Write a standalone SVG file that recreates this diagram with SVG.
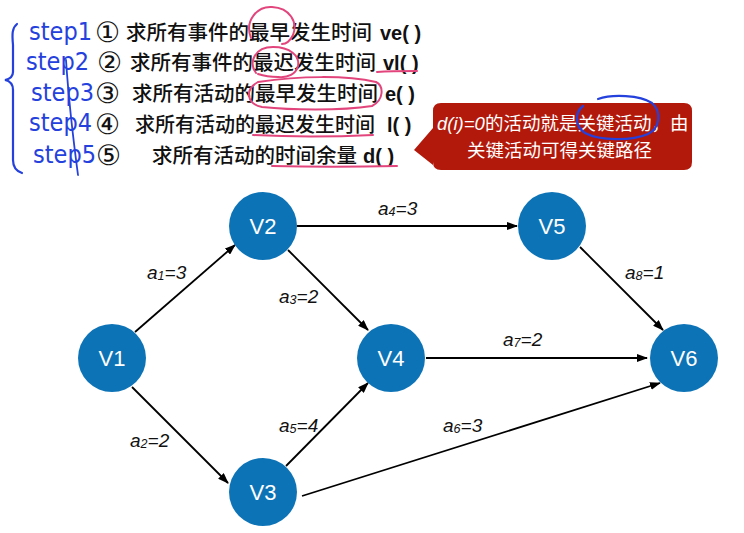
<svg xmlns="http://www.w3.org/2000/svg" width="744" height="533" viewBox="0 0 744 533">
<style>
.cn{font-family:"Noto Sans CJK SC","Noto Sans",sans-serif;font-size:20.5px;fill:#111;font-weight:500}
.num{font-family:"DejaVu Sans",sans-serif;font-size:28px;fill:#111}
.fn{font-family:"Liberation Sans",Arial,sans-serif;font-size:20px;font-weight:bold;fill:#111}
.step{font-family:"DejaVu Sans Condensed","DejaVu Sans",sans-serif;font-stretch:condensed;font-weight:200;font-size:25px;fill:#2541DD}
.pink{fill:none;stroke:#E2457C;stroke-width:2;stroke-linecap:round}
.blue{fill:none;stroke:#2541DD;stroke-width:2.2;stroke-linecap:round}
.node circle{fill:#0D73B7}
.node text{font-family:"Liberation Sans",Arial,sans-serif;font-size:22px;fill:#fff;text-anchor:middle}
.edge{stroke:#000;stroke-width:1.8;fill:none;marker-end:url(#arr)}
.lbl{font-family:"Liberation Sans",Arial,sans-serif;font-size:19px;font-style:italic;fill:#111}
.sub{font-size:12.5px}
.cw{font-family:"Noto Sans CJK SC","Noto Sans",sans-serif;font-size:18.5px;fill:#fff}
.ci{font-family:"Liberation Sans",Arial,sans-serif;font-size:18.5px;font-style:italic;fill:#fff}
</style>
<defs>
<marker id="arr" markerUnits="userSpaceOnUse" markerWidth="11" markerHeight="8" refX="10" refY="4" orient="auto">
<path d="M0,0 L11,4 L0,8 z" fill="#000"/>
</marker>
</defs>
<rect width="744" height="533" fill="#fff"/>

<g id="steps-text">
<text class="num" x="95" y="42">①</text>
<text class="cn" x="126" y="40">求所有事件的最早发生时间</text>
<text class="fn" x="380" y="40">ve( )</text>
<text class="num" x="97" y="72">②</text>
<text class="cn" x="130" y="70">求所有事件的最迟发生时间</text>
<text class="fn" x="383" y="70">vl( )</text>
<text class="num" x="95" y="103">③</text>
<text class="cn" x="132" y="101">求所有活动的最早发生时间</text>
<text class="fn" x="385" y="101">e( )</text>
<text class="num" x="95" y="134">④</text>
<text class="cn" x="135" y="132" style="font-size:20px">求所有活动的最迟发生时间</text>
<text class="fn" x="387" y="132">l( )</text>
<text class="num" x="96" y="165">⑤</text>
<text class="cn" x="152" y="163">求所有活动的时间余量</text>
<text class="fn" x="363" y="163">d( )</text>
</g>

<g id="annotations">
<path class="blue" d="M17,24 C12,28 12,34 13,45 L13,72 C13,77 10,79 5,80 C10,81 13,84 13,90 L13,160 C13,167 16,171 22,173"/>
<text class="step" x="29" y="40">step1</text>
<text class="step" x="26" y="70">step2</text>
<text class="step" x="31" y="101">step3</text>
<text class="step" x="29" y="131">step4</text>
<text class="step" x="33" y="163">step5</text>
<path class="blue" d="M66,60 C68,90 72,130 78,175" style="stroke-width:1.8"/>
<path class="pink" d="M251,38 C244,20 258,6 272,7 C290,8 298,22 293,35 C290,41 286,44 282,44"/>
<path class="pink" d="M256,73 C248,62 255,47 273,47 C290,47 300,56 298,66 C296,74 288,78 278,77 C270,77 264,76 258,74"/>
<path class="pink" d="M377,72 C390,71 405,71 417,71"/>
<path class="pink" d="M258,82 C300,76 345,75 376,82 C384,86 384,100 372,106 C340,111 290,110 262,107 C247,104 244,90 258,82"/>
<path class="pink" d="M253,135 C290,137 330,137 373,135"/>
<path class="pink" d="M272,166 C310,167 355,167 397,166"/>
</g>

<g id="callout">
<path d="M441,103 L684,103 Q692,103 692,111 L692,162 Q692,170 684,170 L441,170 Q433,170 433,162 L433,165 L414,150 L433,128 L433,111 Q433,103 441,103 z" fill="#B2190B"/>
<text class="ci" x="437" y="130">d(i)=0</text>
<text class="cw" x="485" y="130">的活动就是关键活动，由</text>
<text class="cw" x="467" y="157">关键活动可得关键路径</text>
<path class="blue" d="M598,99 C612,94 640,95 652,103 C662,112 660,128 648,134 C632,141 600,141 585,133 C574,126 575,112 583,106"/>
</g>

<g id="connectors">
<line class="edge" x1="135" y1="332" x2="235" y2="245"/>
<line class="edge" x1="288" y1="250" x2="368" y2="330"/>
<line class="edge" x1="132" y1="387" x2="228" y2="483"/>
<line class="edge" x1="286" y1="466" x2="368" y2="383"/>
<line class="edge" x1="297" y1="226" x2="517" y2="226"/>
<line class="edge" x1="302" y1="496" x2="660" y2="383"/>
<line class="edge" x1="426" y1="358" x2="647" y2="358"/>
<line class="edge" x1="580" y1="247" x2="663" y2="330"/>
<text class="lbl" x="147" y="279">a<tspan class="sub" dy="1">1</tspan><tspan dy="-1">=3</tspan></text>
<text class="lbl" x="279" y="303">a<tspan class="sub" dy="1">3</tspan><tspan dy="-1">=2</tspan></text>
<text class="lbl" x="130" y="447">a<tspan class="sub" dy="1">2</tspan><tspan dy="-1">=2</tspan></text>
<text class="lbl" x="279" y="432">a<tspan class="sub" dy="1">5</tspan><tspan dy="-1">=4</tspan></text>
<text class="lbl" x="378" y="215">a<tspan class="sub" dy="1">4</tspan><tspan dy="-1">=3</tspan></text>
<text class="lbl" x="503" y="346">a<tspan class="sub" dy="1">7</tspan><tspan dy="-1">=2</tspan></text>
<text class="lbl" x="443" y="432">a<tspan class="sub" dy="1">6</tspan><tspan dy="-1">=3</tspan></text>
<text class="lbl" x="625" y="279">a<tspan class="sub" dy="1">8</tspan><tspan dy="-1">=1</tspan></text>
</g>

<g id="V1" class="node"><circle cx="112" cy="358" r="34"/><text x="112" y="366">V1</text></g>
<g id="V2" class="node"><circle cx="263" cy="226" r="34"/><text x="263" y="234">V2</text></g>
<g id="V3" class="node"><circle cx="263" cy="492" r="34"/><text x="263" y="500">V3</text></g>
<g id="V4" class="node"><circle cx="391" cy="358" r="34"/><text x="391" y="366">V4</text></g>
<g id="V5" class="node"><circle cx="552" cy="226" r="34"/><text x="552" y="234">V5</text></g>
<g id="V6" class="node"><circle cx="684" cy="358" r="34"/><text x="684" y="366">V6</text></g>
</svg>
